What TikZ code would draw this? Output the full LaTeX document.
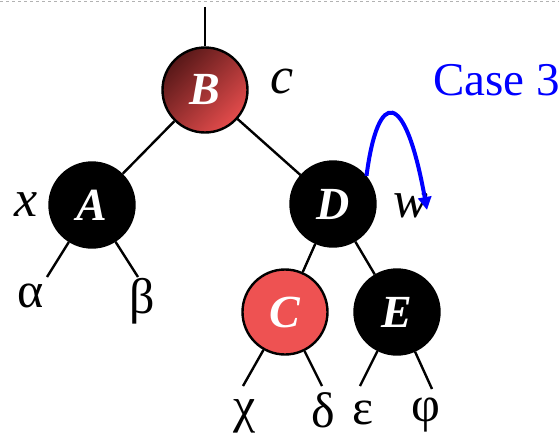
\documentclass[tikz,border=0pt]{standalone}
\usepackage{fontspec}
\setmainfont{Liberation Serif}
\newfontfamily\tnr{Liberation Serif}
\usetikzlibrary{arrows.meta}
\definecolor{bdark}{RGB}{88,24,24}
\definecolor{blight}{RGB}{228,76,76}
\definecolor{cred}{RGB}{238,82,82}
\tikzset{
  rbnode/.style={circle, draw=black, line width=2.4pt, minimum size=85pt, inner sep=0pt,
    text=white, font=\tnr\fontsize{46}{50}\selectfont\bfseries\itshape},
  blacknode/.style={rbnode, fill=black},
  rednode/.style={rbnode, fill=cred},
  gradnode/.style={rbnode, top color=bdark, bottom color=blight, shading angle=45},
  edge/.style={line width=2.4pt, black},
  lbl/.style={font=\tnr\fontsize{52}{56}\selectfont\itshape, inner sep=0pt},
  greek/.style={font=\tnr\fontsize{50}{54}\selectfont, inner sep=0pt},
}
\begin{document}
\begin{tikzpicture}[x=1pt,y=-1pt]
\useasboundingbox (0,0) rectangle (559,436);
\draw[gray!60, dashed, line width=0.8pt] (0,1) -- (559,1);
% nodes
\node[gradnode] (B) at (205,90) {B};
\node[blacknode] (A) at (92,205) {A};
\node[blacknode] (D) at (333,204) {D};
\node[rednode] (C) at (285,312) {C};
\node[blacknode] (E) at (397,312) {E};
% top line
\coordinate (top) at (205,7);
\draw[edge] (top) -- (B);
\draw[edge] (B) -- (A);
\draw[edge] (B) -- (D);
\draw[edge] (D) -- (C);
\draw[edge] (D) -- (E);
% leaves
\coordinate (la) at (47,277);
\coordinate (lb) at (138,277);
\coordinate (lc) at (243,386);
\coordinate (ld) at (322,386);
\coordinate (le) at (360,386);
\coordinate (lf) at (432,389);
\draw[edge] (A) -- (la);
\draw[edge] (A) -- (lb);
\draw[edge] (C) -- (lc);
\draw[edge] (C) -- (ld);
\draw[edge] (E) -- (le);
\draw[edge] (E) -- (lf);
\node[greek] (alpha) at (31,296) {α};
\node[greek] (beta) at (142,301) {β};
\node[greek] (chi) at (245,416) {χ};
\node[greek] (delta) at (323,410) {δ};
\node[greek] (eps) at (363,413) {ε};
\node[greek] (phi) at (426,415) {φ};
% labels
\node[lbl] (xl) at (26,205) {x};
\node[lbl] (cl) at (282,82) {c};
\node[lbl] (wl) at (411,206) {w};
\node[anchor=west, text=blue, font=\tnr\fontsize{47}{50}\selectfont, inner sep=0pt] (case) at (433,80) {Case 3};
% arrow
\coordinate (aend) at (427,210);
\draw[blue, line width=4pt, -{Triangle[length=13pt,width=13pt]}]
  (D.40) .. controls (378,88) and (405,88) .. (aend);
\end{tikzpicture}
\end{document}
